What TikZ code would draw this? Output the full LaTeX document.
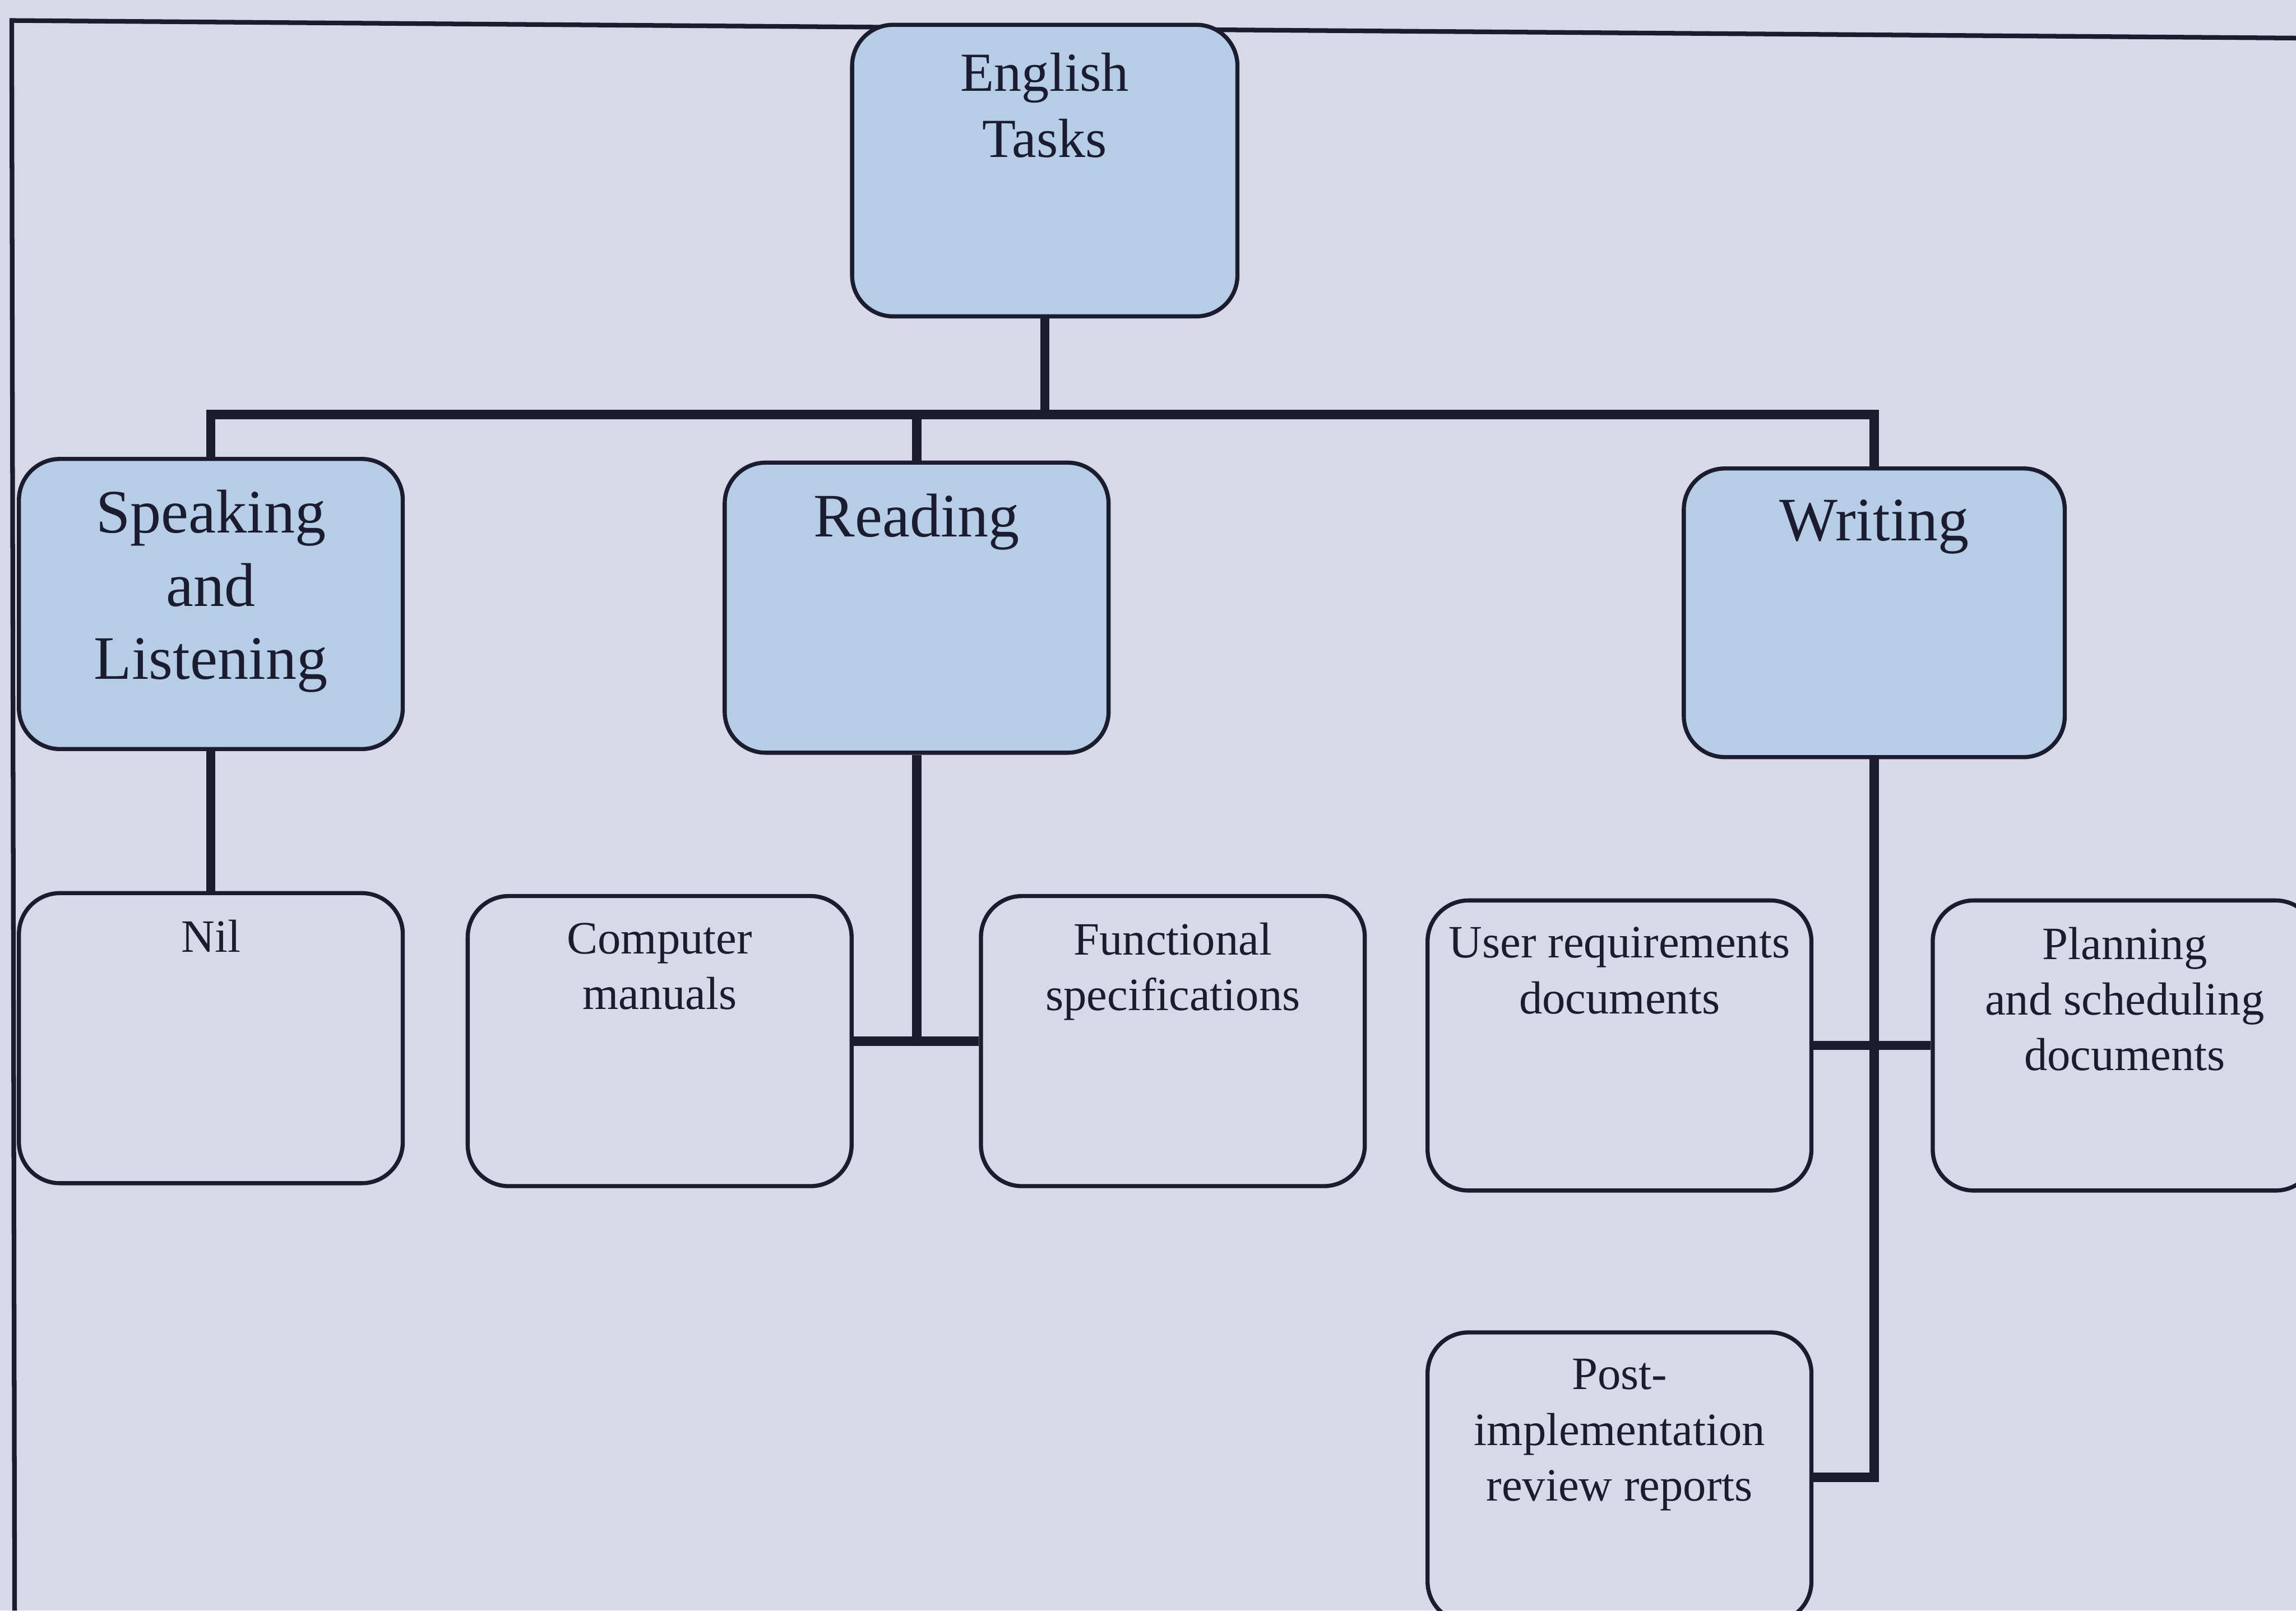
\documentclass[tikz,border=0pt]{standalone}
\usepackage{fontspec}
\setmainfont{Liberation Serif}
\usetikzlibrary{positioning}

\definecolor{pagebg}{HTML}{D7D8E8}
\definecolor{boxblue}{HTML}{B6CEE5}
\definecolor{ink}{HTML}{1C1C30}

\tikzset{
  taskbox/.style={draw=ink, line width=0.8pt, rounded corners=0.28cm,
    minimum width=2.62cm, minimum height=1.98cm, inner sep=0pt},
  mainbox/.style={taskbox, fill=boxblue},
  wire/.style={draw=ink, line width=1.8pt},
  boxtext/.style={anchor=north, align=center, inner sep=0pt, text=ink},
  bigtext/.style={font=\fontsize{12}{14.2}\selectfont},
  smalltext/.style={font=\fontsize{9}{10.8}\selectfont},
}

\begin{document}
\begin{tikzpicture}[x=0.01cm, y=-0.01cm]

    % Page and the frame round it
    \fill[pagebg] (0,0) rectangle (1568,1100);
    \useasboundingbox (0,0) rectangle (1568,1100);
    \clip (0,0) rectangle (1568,1100);
    \draw[ink, line width=0.9pt] (1568,26) -- (8,14) -- (10,1100);

    % Top level boxes
    \node[mainbox, minimum width=2.63cm, minimum height=1.99cm] (eng) at (713.5,116.5) {};
    \node[mainbox] (speak) at (144,412.5) {};
    \node[mainbox] (read) at (626,415) {};
    \node[mainbox, minimum width=2.6cm, minimum height=1.97cm] (writ) at (1280,418.5) {};

    % Lower boxes
    \foreach \nm/\x/\y in {nil/144/709, comp/450.5/711, func/801/711,
                           user/1106/714, plan/1451/714, post/1106/1009}
        \node[taskbox] (\nm) at (\x,\y) {};

    % Labels of the boxes
    \node[boxtext, font=\fontsize{10.7}{12.8}\selectfont] (eng-t)
        at ([yshift=-0.2cm]eng.north) {English\\Tasks};
    \node[boxtext, bigtext] (speak-t) at ([yshift=-0.22cm]speak.north) {Speaking\\and\\Listening};
    \node[boxtext, bigtext] (read-t) at ([yshift=-0.22cm]read.north) {Reading};
    \node[boxtext, bigtext] (writ-t) at ([yshift=-0.22cm]writ.north) {Writing};

    \foreach \nm/\txt in {nil/{Nil}, comp/{Computer\\manuals},
                          func/{Functional\\specifications},
                          user/{User requirements\\documents},
                          plan/{Planning\\and scheduling\\documents},
                          post/{Post-\\implementation\\review reports}}
        \node[boxtext, smalltext] (\nm-t) at ([yshift=-0.19cm]\nm.north) {\txt};

    % Connectors
    \coordinate (bus) at (713.5,283);
    \draw[wire] (eng.south) -- (bus);
    \draw[wire] (speak.north) |- (bus) -| (writ.north);
    \draw[wire] (read.north) -- (read.north |- bus);

    \draw[wire] (speak.south) -- (nil.north);
    \draw[wire] (read.south) -- (read.south |- comp.east);
    \draw[wire] (comp.east) -- (func.west);
    \draw[wire] (writ.south) |- (post.east);
    \draw[wire] (user.east) -- (plan.west);

\end{tikzpicture}
\end{document}
